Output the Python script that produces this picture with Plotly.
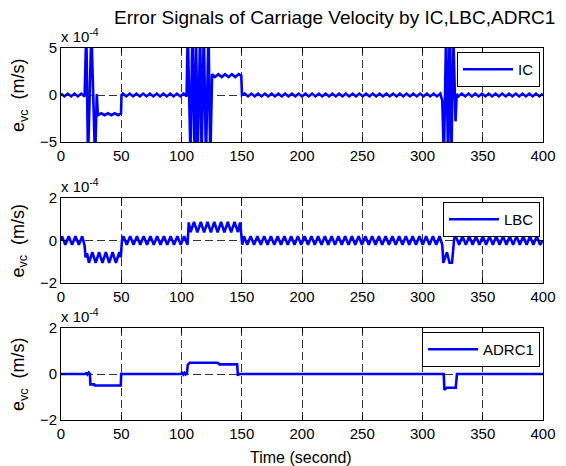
import plotly.graph_objects as go

# ---------------- data (values in units of 1e-4 m/s) ----------------
x_ticks = [0, 50, 100, 150, 200, 250, 300, 350, 400]
ic_yticks = [-5, 0, 5]
small_yticks = [-2, 0, 2]

ic_t = [0, 2.8, 5.6, 8.4, 11.2, 14.0, 16.8, 19.6,
        20.2, 21.0, 22.4, 25.2, 28.3, 29.7,
        30.6, 33.4, 36.2, 39.0, 41.8, 44.6, 47.4, 49.8,
        50.2, 51.4, 54.2, 57.0, 59.8, 62.6, 65.4, 68.2, 71.0, 73.8, 76.6, 79.4,
        82.2, 85.0, 87.8, 90.6, 93.4, 96.2, 99.0, 101.8, 104.2,
        105.2, 107.5, 109.0, 111.0, 112.0, 113.4, 115.5, 116.7, 118.5, 120.3, 122.4, 123.9,
        125.4, 127.8, 130.6, 133.4, 136.2, 139.0, 141.8, 144.6, 147.4, 149.6,
        150.2, 152.4, 155.2, 158.0, 160.8, 163.6, 166.4, 169.2, 172.0, 174.8, 177.6,
        180.4, 183.2, 186.0, 188.8, 191.6, 194.4, 197.2, 200.0, 202.8, 205.6,
        208.4, 211.2, 214.0, 216.8, 219.6, 222.4, 225.2, 228.0, 230.8, 233.6,
        236.4, 239.2, 242.0, 244.8, 247.6, 250.4, 253.2, 256.0, 258.8, 261.6,
        264.4, 267.2, 270.0, 272.8, 275.6, 278.4, 281.2, 284.0, 286.8, 289.6,
        292.4, 295.2, 298.0, 300.8, 303.6, 306.4, 309.2, 312.0, 314.8,
        316.4, 317.8, 319.6, 321.2, 322.5, 324.0, 325.5, 327.4, 328.4,
        329.8, 332.6, 335.4, 338.2, 341.0, 343.8, 346.6, 349.4, 352.2, 355.0,
        357.8, 360.6, 363.4, 366.2, 369.0, 371.8, 374.6, 377.4, 380.2, 383.0,
        385.8, 388.6, 391.4, 394.2, 397.0, 399.8]
ic_v = [0.15, -0.15, 0.15, -0.15, 0.15, -0.15, 0.15, -0.15,
        3.0, 7.0, -7.0, 7.0, -7.0, 0.1,
        -2.15, -1.95, -2.15, -1.95, -2.15, -1.95, -2.15, -1.95,
        0.0, 0.15, -0.15, 0.15, -0.15, 0.15, -0.15, 0.15, -0.15, 0.15, -0.15, 0.15,
        -0.15, 0.15, -0.15, 0.15, -0.15, 0.15, -0.15, 0.15, -0.15,
        7, -7, 7, -7, 7, -7, 7, -7, 7, -7, 7, -7,
        2.2, 1.92, 2.22, 1.92, 2.22, 1.92, 2.22, 1.92, 2.22, 2.05,
        0.0, 0.15, -0.15, 0.15, -0.15, 0.15, -0.15, 0.15, -0.15, 0.15, -0.15,
        0.15, -0.15, 0.15, -0.15, 0.15, -0.15, 0.15, -0.15, 0.15, -0.15,
        0.15, -0.15, 0.15, -0.15, 0.15, -0.15, 0.15, -0.15, 0.15, -0.15,
        0.15, -0.15, 0.15, -0.15, 0.15, -0.15, 0.15, -0.15, 0.15, -0.15,
        0.15, -0.15, 0.15, -0.15, 0.15, -0.15, 0.15, -0.15, 0.15, -0.15,
        0.15, -0.15, 0.15, -0.15, 0.15, -0.15, 0.15, -0.15, 0.15,
        -0.6, -7, 7, -7, 7, -7, 7, -2.8, 0.1,
        -0.15, 0.15, -0.15, 0.15, -0.15, 0.15, -0.15, 0.15, -0.15, 0.15,
        -0.15, 0.15, -0.15, 0.15, -0.15, 0.15, -0.15, 0.15, -0.15, 0.15,
        -0.15, 0.15, -0.15, 0.15, -0.15, 0.15]

lbc_t = [0, 0.8, 3.6, 6.4, 9.2, 12.0, 14.8, 17.6, 19.6,
         20.4, 21.6, 23.2, 26.0, 28.8, 31.6, 34.4, 37.2, 40.0, 42.8, 45.6, 48.4, 49.6,
         50.6, 51.8, 54.6, 57.4, 60.2, 63.0, 65.8, 68.6, 71.4, 74.2, 77.0, 79.8,
         82.6, 85.4, 88.2, 91.0, 93.8, 96.6, 99.4, 102.2, 105.0,
         106.0, 107.6, 110.4, 113.2, 116.0, 118.8, 121.6, 124.4, 127.2, 130.0,
         132.8, 135.6, 138.4, 141.2, 144.0, 146.8, 148.6, 149.6,
         150.4, 151.8, 154.6, 157.4, 160.2, 163.0, 165.8, 168.6, 171.4, 174.2, 177.0,
         179.8, 182.6, 185.4, 188.2, 191.0, 193.8, 196.6, 199.4, 202.2, 205.0,
         207.8, 210.6, 213.4, 216.2, 219.0, 221.8, 224.6, 227.4, 230.2, 233.0,
         235.8, 238.6, 241.4, 244.2, 247.0, 249.8, 252.6, 255.4, 258.2, 261.0,
         263.8, 266.6, 269.4, 272.2, 275.0, 277.8, 280.6, 283.4, 286.2, 289.0,
         291.8, 294.6, 297.4, 300.2, 303.0, 305.8, 308.6, 311.4, 314.2,
         316.4, 317.3, 320.3, 322.4, 324.5, 326.3,
         327.6, 330.4, 333.2, 336.0, 338.8, 341.6, 344.4, 347.2, 350.0, 352.8,
         355.6, 358.4, 361.2, 364.0, 366.8, 369.6, 372.4, 375.2, 378.0, 380.8,
         383.6, 386.4, 389.2, 392.0, 394.8, 397.6, 400.0]
lbc_v = [0.0, 0.2, -0.2, 0.2, -0.2, 0.2, -0.2, 0.2, -0.25,
         -0.8, -0.6, -1.05, -0.55, -1.05, -0.55, -1.05, -0.55, -1.05, -0.55, -1.05, -0.55, -0.8,
         0.0, 0.2, -0.2, 0.2, -0.2, 0.2, -0.2, 0.2, -0.2, 0.2, -0.2, 0.2,
         -0.2, 0.2, -0.2, 0.2, -0.2, 0.2, -0.2, 0.2, -0.2,
         0.85, 0.4, 0.88, 0.38, 0.88, 0.38, 0.88, 0.38, 0.88, 0.38,
         0.88, 0.38, 0.88, 0.38, 0.88, 0.4, 0.85, 0.3,
         -0.2, 0.2, -0.2, 0.2, -0.2, 0.2, -0.2, 0.2, -0.2, 0.2, -0.2,
         0.2, -0.2, 0.2, -0.2, 0.2, -0.2, 0.2, -0.2, 0.2, -0.2,
         0.2, -0.2, 0.2, -0.2, 0.2, -0.2, 0.2, -0.2, 0.2, -0.2,
         0.2, -0.2, 0.2, -0.2, 0.2, -0.2, 0.2, -0.2, 0.2, -0.2,
         0.2, -0.2, 0.2, -0.2, 0.2, -0.2, 0.2, -0.2, 0.2, -0.2,
         0.2, -0.2, 0.2, -0.2, 0.2, -0.2, 0.2, -0.2, 0.2,
         -0.2, -1.05, -0.55, -1.05, -1.05, 0.1,
         0.2, -0.2, 0.2, -0.2, 0.2, -0.2, 0.2, -0.2, 0.2, -0.2,
         0.2, -0.2, 0.2, -0.2, 0.2, -0.2, 0.2, -0.2, 0.2, -0.2,
         0.2, -0.2, 0.2, -0.2, 0.2, -0.2, 0.0]

adrc_t = [0, 20.5, 21.0, 22.0, 23.0, 24.0, 24.4, 25.0, 27.5, 28.0,
          49.6, 50.0, 50.4, 99.5, 100.5, 101.5, 102.5, 103.5, 104.6, 105.2,
          106.2, 106.8, 130.0, 131.5, 146.2, 146.8, 147.4, 317.6, 318.2, 319.5,
          320.0, 327.6, 328.6, 400]
adrc_v = [0, 0, 0.06, -0.02, 0.06, 0.0, -0.45, -0.45, -0.45, -0.5,
          -0.5, 0.05, 0.0, 0.0, 0.05, -0.02, 0.05, -0.02, 0.05, 0.4,
          0.45, 0.49, 0.49, 0.42, 0.42, -0.08, 0.0, 0.0, -0.69, -0.6,
          -0.6, -0.6, 0.0, 0.0]

W, H = 566, 466
OFF = 8  # page body margin of the browser: figure starts 8px in from the corner
FONT = "Liberation Sans, Arial, Helvetica, sans-serif"
BLUE = "#0000FF"

def px_x(p):
    return (p - OFF) / W

def px_y(p):
    return 1 - (p - OFF) / H

# panel pixel boxes (top, bottom) in screen pixels
panels = [(48, 142), (198, 283), (328, 420)]
xdom = [px_x(61), px_x(543)]

fig = go.Figure()
series = [("IC", ic_t, ic_v, "legend"), ("LBC", lbc_t, lbc_v, "legend2"),
          ("ADRC1", adrc_t, adrc_v, "legend3")]
for i, (name, t, v, lg) in enumerate(series):
    sfx = "" if i == 0 else str(i + 1)
    fig.add_trace(go.Scatter(x=t, y=v, mode="lines", name=name,
                             line=dict(color=BLUE, width=2.6),
                             xaxis="x" + sfx, yaxis="y" + sfx, legend=lg))

axis_common = dict(showline=True, linecolor="black", linewidth=1, mirror="ticks",
                   ticks="inside", ticklen=5, tickcolor="black", automargin=False,
                   showgrid=True, gridcolor="#333", gridwidth=1, griddash="8px,4px",
                   zeroline=False, tickfont=dict(family=FONT, size=15, color="black"))

layout = dict(width=W, height=H, autosize=False,
              margin=dict(l=0, r=0, t=0, b=0, pad=0, autoexpand=False),
              paper_bgcolor="white", plot_bgcolor="white", showlegend=True,
              font=dict(family=FONT, color="black"))

yticks_list = [ic_yticks, small_yticks, small_yticks]
yranges = [[-5, 5], [-2, 2], [-2, 2]]
leg_names = ["legend", "legend2", "legend3"]
for i, (top, bot) in enumerate(panels):
    sfx = "" if i == 0 else str(i + 1)
    layout["xaxis" + sfx] = dict(axis_common, domain=xdom, range=[0, 400],
                                 tickvals=x_ticks, anchor="y" + sfx)
    layout["yaxis" + sfx] = dict(axis_common, domain=[px_y(bot), px_y(top)],
                                 range=yranges[i], tickvals=yticks_list[i],
                                 anchor="x" + sfx)
    layout[leg_names[i]] = dict(x=px_x(540), xanchor="right", y=px_y(top + 4), yanchor="top",
                                bgcolor="white", bordercolor="black", borderwidth=1,
                                itemwidth=50,
                                font=dict(family=FONT, size=15, color="black"))

annotations = [dict(text="Error Signals of Carriage Velocity by IC,LBC,ADRC1",
                    x=px_x(334), y=px_y(18), xref="paper", yref="paper",
                    xanchor="center", yanchor="middle", showarrow=False,
                    font=dict(family=FONT, size=19, color="black")),
               dict(text="Time (second)", x=px_x(301), y=px_y(457), xref="paper", yref="paper",
                    xanchor="center", yanchor="middle", showarrow=False,
                    font=dict(family=FONT, size=16, color="black"))]
for top, bot in panels:
    annotations.append(dict(text="x 10<sup>-4</sup>", x=px_x(59), y=px_y(top - 1),
                            xref="paper", yref="paper", xanchor="left", yanchor="bottom",
                            showarrow=False, font=dict(family=FONT, size=15, color="black")))
    annotations.append(dict(text="e<sub>vc</sub>  (m/s)", x=px_x(19), y=px_y((top + bot) / 2),
                            xref="paper", yref="paper", xanchor="center", yanchor="middle",
                            textangle=-90, showarrow=False,
                            font=dict(family=FONT, size=18, color="black")))
layout["annotations"] = annotations

fig.update_layout(**layout)
fig.write_html("out.html")
